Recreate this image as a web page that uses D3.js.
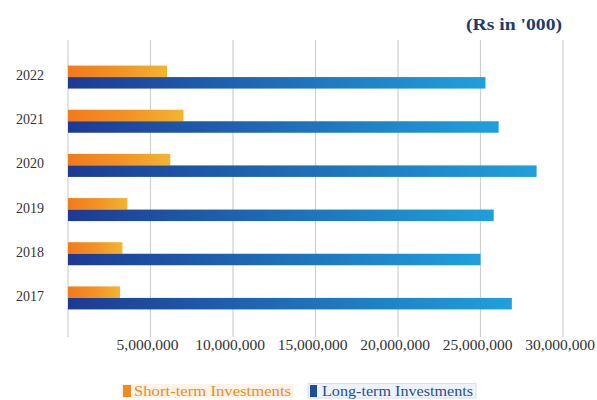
<!DOCTYPE html>
<html>
<head>
<meta charset="utf-8">
<script src="https://cdn.jsdelivr.net/npm/d3@7"></script>
<style>
  html, body { margin: 0; padding: 0; background: #fff; }
  svg { display: block; }
</style>
</head>
<body>
<svg id="chart" width="597" height="400"></svg>
<script>
// Investment holdings by year (Rs in '000)
const years = ["2022", "2021", "2020", "2019", "2018", "2017"];
const shortTerm = [6000000, 7000000, 6200000, 3600000, 3300000, 3150000];
const longTerm = [25300000, 26100000, 28400000, 25800000, 25000000, 26900000];
const tickValues = [0, 5000000, 10000000, 15000000, 20000000, 25000000, 30000000];
const seriesNames = ["Short-term Investments", "Long-term Investments"];

const svg = d3.select("#chart");
const serif = "'Liberation Serif', 'DejaVu Serif', serif";

const x = d3.scaleLinear().domain([0, 30000000]).range([68, 563]);
const y = d3.scaleBand().domain(years).range([55, 320]);
const barH = 11.5;

// gradients
const defs = svg.append("defs");
const gOrange = defs.append("linearGradient").attr("id", "gOrange")
  .attr("x1", "0%").attr("x2", "100%").attr("y1", "0%").attr("y2", "0%");
gOrange.append("stop").attr("offset", "0%").attr("stop-color", "#f27a1c");
gOrange.append("stop").attr("offset", "55%").attr("stop-color", "#f39424");
gOrange.append("stop").attr("offset", "100%").attr("stop-color", "#f2b530");
const gBlue = defs.append("linearGradient").attr("id", "gBlue")
  .attr("x1", "0%").attr("x2", "100%").attr("y1", "0%").attr("y2", "0%");
gBlue.append("stop").attr("offset", "0%").attr("stop-color", "#1d3a94");
gBlue.append("stop").attr("offset", "100%").attr("stop-color", "#1fa0dc");

// vertical gridlines
svg.append("g").selectAll("line").data(tickValues).join("line")
  .attr("x1", d => x(d)).attr("x2", d => x(d))
  .attr("y1", 40).attr("y2", 337)
  .attr("stroke", "#cfcfcf").attr("stroke-width", 1.2);

// x-axis tick labels
svg.append("g").selectAll("text").data(tickValues.filter(d => d > 0)).join("text")
  .attr("x", d => x(d) - 3).attr("y", 350)
  .attr("text-anchor", "middle")
  .attr("font-family", serif).attr("font-size", 15.5)
  .attr("fill", "#333")
  .text(d => d3.format(",")(d));

// year labels
svg.append("g").selectAll("text").data(years).join("text")
  .attr("x", 30).attr("y", d => y(d) + y.bandwidth() / 2 + 3)
  .attr("text-anchor", "middle")
  .attr("font-family", serif).attr("font-size", 14)
  .attr("fill", "#333")
  .text(d => d);

// short-term bars
svg.append("g").selectAll("rect").data(years).join("rect")
  .attr("x", x(0))
  .attr("y", d => y(d) + y.bandwidth() / 2 - barH)
  .attr("width", (d, i) => x(shortTerm[i]) - x(0))
  .attr("height", barH)
  .attr("fill", "url(#gOrange)");

// long-term bars
svg.append("g").selectAll("rect").data(years).join("rect")
  .attr("x", x(0))
  .attr("y", d => y(d) + y.bandwidth() / 2)
  .attr("width", (d, i) => x(longTerm[i]) - x(0))
  .attr("height", barH)
  .attr("fill", "url(#gBlue)");

// unit note
svg.append("text")
  .attr("x", 466).attr("y", 30)
  .attr("textLength", 96).attr("lengthAdjust", "spacingAndGlyphs")
  .attr("font-family", serif).attr("font-size", 16).attr("font-weight", "bold")
  .attr("fill", "#1f3a6e")
  .text("(Rs in '000)");

// legend
const legend = svg.append("g");
legend.append("rect").attr("x", 121).attr("y", 384).attr("width", 173).attr("height", 14)
  .attr("fill", "#fdf3e6");
legend.append("rect").attr("x", 123).attr("y", 385).attr("width", 8).attr("height", 12)
  .attr("fill", "#f28a1f");
legend.append("text").attr("x", 134).attr("y", 395.5)
  .attr("textLength", 157).attr("lengthAdjust", "spacingAndGlyphs")
  .attr("font-family", serif).attr("font-size", 14)
  .attr("fill", "#f08a20")
  .text(seriesNames[0]);
legend.append("rect").attr("x", 308).attr("y", 383.5).attr("width", 168).attr("height", 14.5)
  .attr("fill", "#eef3fb").attr("stroke", "#d6deec");
legend.append("rect").attr("x", 310).attr("y", 385).attr("width", 7).attr("height", 12)
  .attr("fill", "#1f4d9a");
legend.append("text").attr("x", 322).attr("y", 395.5)
  .attr("textLength", 151).attr("lengthAdjust", "spacingAndGlyphs")
  .attr("font-family", serif).attr("font-size", 14)
  .attr("fill", "#1f4d9a")
  .text(seriesNames[1]);
</script>
</body>
</html>
